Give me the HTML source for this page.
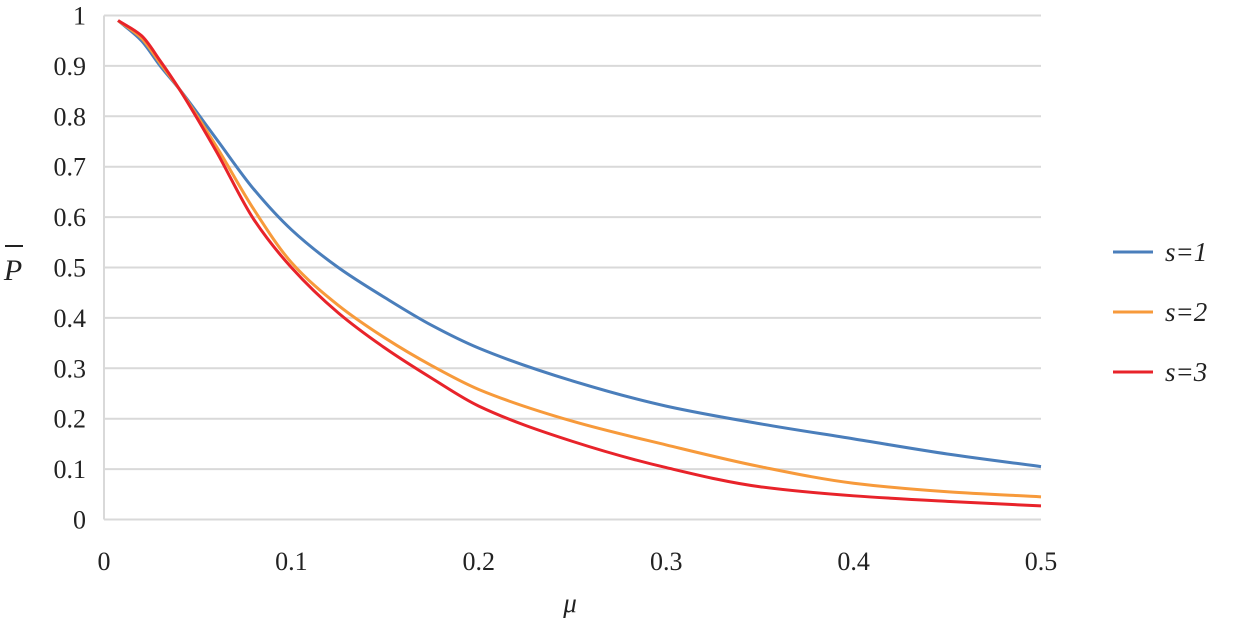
<!DOCTYPE html>
<html><head><meta charset="utf-8"><style>
body{margin:0;background:#fff}
svg text{font-family:"Liberation Serif",serif}
</style></head><body>
<svg id="c" width="1254" height="619"></svg>
<script>
const muVals=[0.0075,0.02,0.03,0.04,0.06,0.08,0.1,0.125,0.15,0.175,0.2,0.25,0.3,0.35,0.4,0.45,0.5];
const s1=[0.99,0.95,0.9,0.855,0.755,0.655,0.575,0.50,0.44,0.385,0.34,0.275,0.225,0.19,0.16,0.13,0.105];
const s2=[0.99,0.955,0.905,0.855,0.74,0.615,0.51,0.425,0.36,0.305,0.258,0.195,0.148,0.105,0.072,0.055,0.045];
const s3=[0.99,0.96,0.91,0.855,0.73,0.595,0.50,0.41,0.34,0.28,0.225,0.155,0.103,0.065,0.047,0.036,0.027];
const yTicks=[0,0.1,0.2,0.3,0.4,0.5,0.6,0.7,0.8,0.9,1];
const xTicks=[0,0.1,0.2,0.3,0.4,0.5];
const seriesNames=["s=1","s=2","s=3"];
const colors=["#4a7ebb","#f79a3b","#e8232a"];
const ns="http://www.w3.org/2000/svg",svg=document.getElementById('c');
const X=v=>104+v*1874, Y=v=>519.5-v*504;
function mk(t,a,p){const e=document.createElementNS(ns,t);for(const k in a)e.setAttribute(k,a[k]);(p||svg).appendChild(e);return e;}
yTicks.forEach(v=>{
 const l=mk('line',{x1:104,x2:1041,y1:Y(v),y2:Y(v),stroke:'#d9d9d9','stroke-width':2});
 
 
 const t=mk('text',{x:86,y:Y(v)+9,'text-anchor':'end','font-size':26,fill:'#222'});t.textContent=v;
 
 
});
const ax=mk('line',{x1:104,x2:104,y1:Y(1),y2:Y(0),stroke:'#d9d9d9','stroke-width':2});


xTicks.forEach(v=>{
 const t=mk('text',{x:X(v),y:570,'text-anchor':'middle','font-size':26,fill:'#222'});t.textContent=v;
 
 
});
// monotone cubic (Fritsch-Carlson) through the data points
function path(ys){
 const xs=muVals,n=xs.length,d=[],m=[];
 for(let i=0;i<n-1;i++)d.push((ys[i+1]-ys[i])/(xs[i+1]-xs[i]));
 m[0]=d[0];m[n-1]=d[n-2];
 for(let i=1;i<n-1;i++){
  if(d[i-1]*d[i]<=0)m[i]=0;
  else{const h0=xs[i]-xs[i-1],h1=xs[i+1]-xs[i],w1=2*h1+h0,w2=h1+2*h0;m[i]=(w1+w2)/(w1/d[i-1]+w2/d[i]);}
 }
 let s='M'+X(xs[0])+','+Y(ys[0]);
 for(let i=0;i<n-1;i++){const h=xs[i+1]-xs[i];
  s+=' C'+X(xs[i]+h/3)+','+Y(ys[i]+m[i]*h/3)+' '+X(xs[i+1]-h/3)+','+Y(ys[i+1]-m[i+1]*h/3)+' '+X(xs[i+1])+','+Y(ys[i+1]);}
 return s;}
[s1,s2,s3].forEach((s,i)=>{
 const e=mk('path',{d:path(s),fill:'none',stroke:colors[i],'stroke-width':3});
 
 
 const ly=252+i*60;
 const l=mk('line',{x1:1113,x2:1153,y1:ly,y2:ly,stroke:colors[i],'stroke-width':3});
 
 
 const t=mk('text',{x:1165,y:ly+9,'font-size':27,'font-style':'italic',fill:'#222'});t.textContent=seriesNames[i];
 
 
});
const xt=mk('text',{x:570,y:612,'font-size':27,'font-style':'italic',fill:'#222','text-anchor':'middle'});xt.textContent='μ';


const yt=mk('text',{x:13,y:280,'font-size':30,'font-style':'italic',fill:'#222','text-anchor':'middle'});yt.textContent='P';


const ob=mk('line',{x1:5,x2:23,y1:246,y2:246,stroke:'#222','stroke-width':2});


</script>
</body></html>
